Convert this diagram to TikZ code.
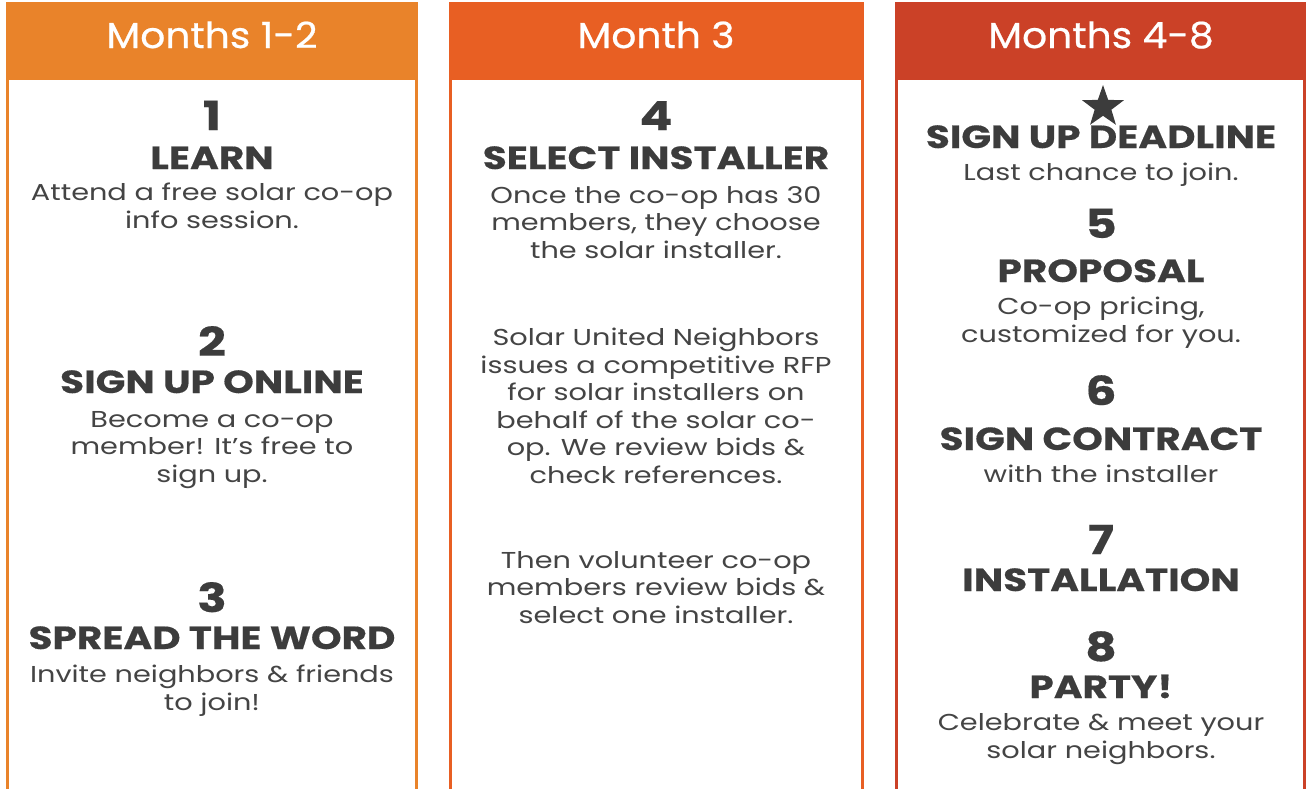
\documentclass[tikz,border=0pt]{standalone}
\usepackage{fontspec}
\setmainfont{Poppins}[FakeStretch=1.25]
\newfontfamily\ttlfont{Poppins}[FakeStretch=1.22,FakeBold=0.4]
\newfontfamily\hdrfont{Poppins}[FakeStretch=1.09,FakeBold=0.6]
\usetikzlibrary{shapes.geometric}
\definecolor{cA}{HTML}{E9832A}
\definecolor{cB}{HTML}{E85F23}
\definecolor{cC}{HTML}{CB4127}
\definecolor{ink}{HTML}{444444}
\definecolor{inkd}{HTML}{3C3C3C}
\tikzset{
  num/.style={font=\ttlfont\fontsize{40}{40}\selectfont\bfseries, text=inkd, inner sep=0, anchor=base},
  ttl/.style={font=\ttlfont\fontsize{32}{32}\selectfont\bfseries, text=inkd, inner sep=0, anchor=base},
  body/.style={font=\fontsize{23}{27.5}\selectfont, text=ink, align=center, inner sep=0, anchor=base},
  hdr/.style={font=\hdrfont\fontsize{36}{36}\selectfont, text=white, inner sep=0, anchor=base},
  frame/.style={draw=#1, line width=3pt},
  head/.style={fill=#1},
}
\begin{document}
\begin{tikzpicture}[x=1pt,y=-1pt]
\useasboundingbox (0,0) rectangle (1306,788);
\clip (0,0) rectangle (1306,788);
% column frames
\draw[frame=cA] (7.5,3) rectangle (416.5,800);
\draw[frame=cB] (450.5,3) rectangle (862.5,800);
\draw[frame=cC] (896.5,3) rectangle (1304.5,800);
\fill[head=cA] (6,2) rectangle (418,80);
\fill[head=cB] (449,2) rectangle (864,80);
\fill[head=cC] (895,2) rectangle (1306,80);
\node[hdr] (h1) at (212,48) {Months 1-2};
\node[hdr] (h2) at (656,48) {Month 3};
\node[hdr] (h3) at (1101,48) {Months 4-8};
% column 1
\node[num] (n1) at (212,130) {1};
\node[ttl] (t1) at (212,169) {LEARN};
\node[body] (b1) at (212,228) {Attend a free solar co-op\\info session.};
\node[num] (n2) at (212,356) {2};
\node[ttl] (t2) at (212,393) {SIGN UP ONLINE};
\node[body] (b2) at (212,482) {Become a co-op\\member! It’s free to\\sign up.};
\node[num] (n3) at (212,612) {3};
\node[ttl] (t3) at (212,649) {SPREAD THE WORD};
\node[body] (b3) at (212,710) {Invite neighbors \& friends\\to join!};
% column 2
\node[num] (n4) at (656,130) {4};
\node[ttl] (t4) at (656,169) {SELECT INSTALLER};
\node[body] (b4) at (656,258) {Once the co-op has 30\\members, they choose\\the solar installer.};
\node[body] (b5) at (656,483) {Solar United Neighbors\\issues a competitive RFP\\for solar installers on\\behalf of the solar co-\\op. We review bids \&\\check references.};
\node[body] (b6) at (656,623) {Then volunteer co-op\\members review bids \&\\select one installer.};
% column 3
\node[star, star points=5, star point ratio=2.5, fill=inkd, minimum size=44pt, inner sep=0] (star) at (1103,107) {};
\node[ttl] (t7) at (1101,148) {SIGN UP DEADLINE};
\node[body] (b7) at (1101,180) {Last chance to join.};
\node[num] (n8) at (1101,238) {5};
\node[ttl] (t8) at (1101,282) {PROPOSAL};
\node[body] (b8) at (1101,342) {Co-op pricing,\\customized for you.};
\node[num] (n9) at (1101,405) {6};
\node[ttl] (t9) at (1101,450) {SIGN CONTRACT};
\node[body] (b9) at (1101,482) {with the installer};
\node[num] (n10) at (1101,554) {7};
\node[ttl] (t10) at (1101,591) {INSTALLATION};
\node[num] (n11) at (1101,661) {8};
\node[ttl] (t11) at (1101,698) {PARTY!};
\node[body] (b11) at (1101,758) {Celebrate \& meet your\\solar neighbors.};
\end{tikzpicture}
\end{document}
